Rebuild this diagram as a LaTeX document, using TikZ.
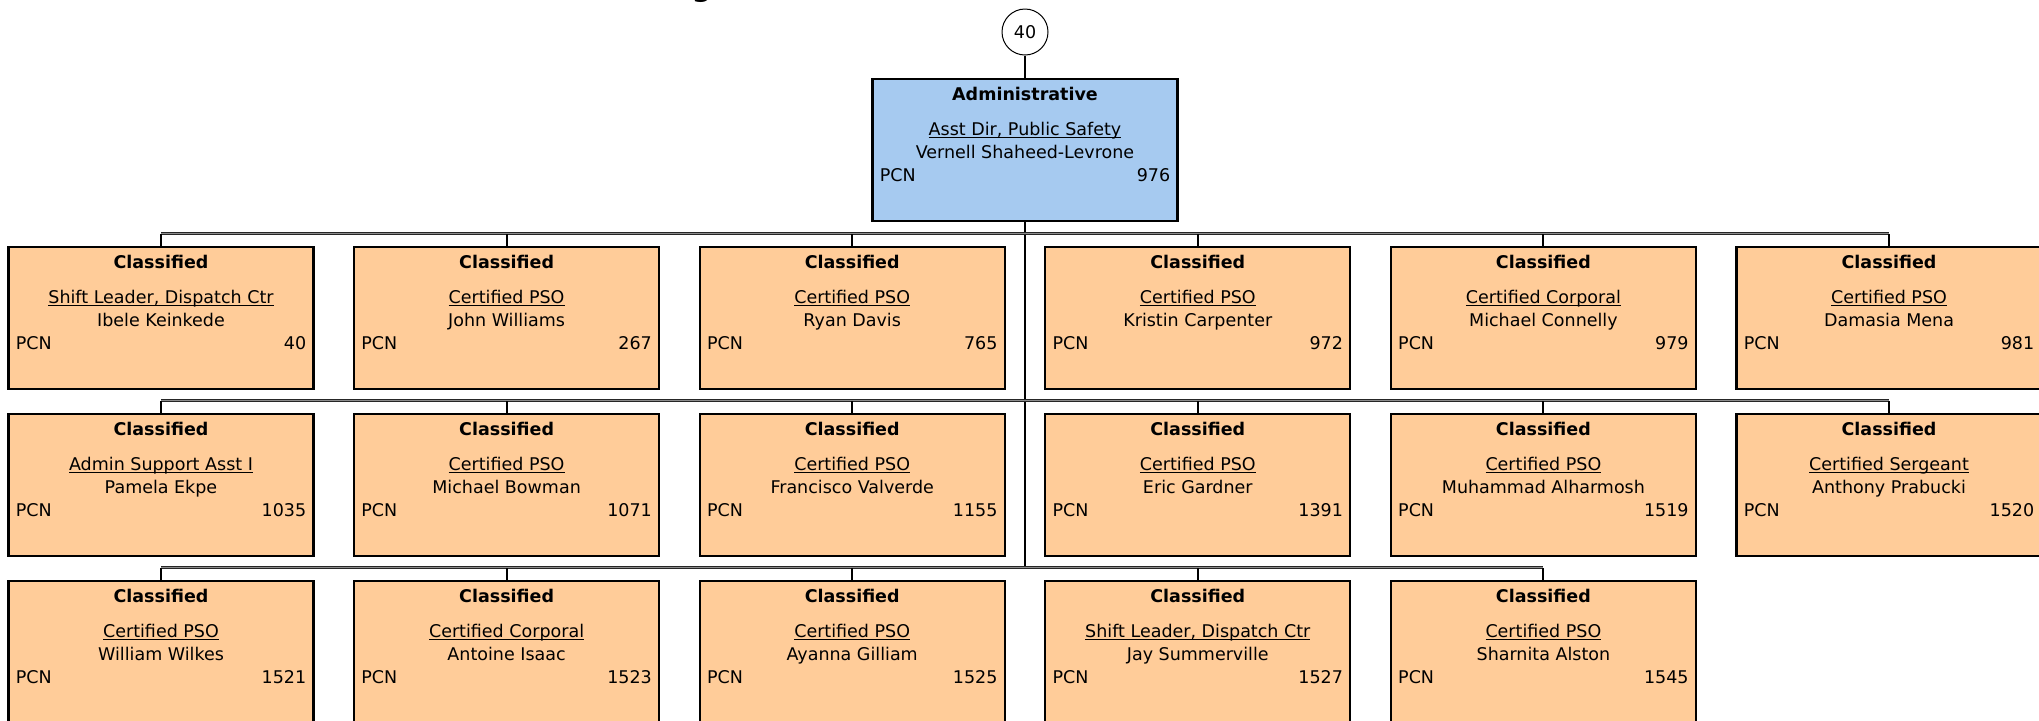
\documentclass[tikz,border=0pt]{standalone}
\usepackage{fontspec}
\setmainfont{DejaVu Sans}
\usetikzlibrary{calc}
\definecolor{adminblue}{RGB}{166,202,240}
\definecolor{classorange}{RGB}{255,204,153}
\tikzset{
  orgbox/.style={draw=black, line width=1.1pt, minimum width=152.5pt, minimum height=71pt, inner sep=0pt, anchor=north},
  txt/.style={inner sep=0pt, anchor=base, font=\fontsize{8.75}{10.5}\selectfont},
  hdr/.style={txt, font=\fontsize{8.75}{10.5}\selectfont\bfseries},
  vline/.style={draw=black, line width=1pt},
  busline/.style={draw=black!85, line width=0.45pt, double=black!45, double distance=0.6pt},
  topcircle/.style={draw=black, line width=0.5pt, circle, minimum size=23pt, inner sep=0pt, font=\fontsize{8.75}{10.5}\selectfont},
}
\newcommand{\orgunit}[8]{%
  \node[orgbox, fill=#8] (#1) at (#2,#3) {};
  \node[hdr] (#1h) at ($(#1.north)+(0,22)$) {#4};
  \node[txt] (#1t) at ($(#1.north)+(0,57)$) {\underline{\smash{#5}}};
  \node[txt] (#1n) at ($(#1.north)+(0,80.5)$) {#6};
  \node[txt, anchor=base west] (#1p) at ($(#1.north west)+(8,103.5)$) {PCN};
  \node[txt, anchor=base east] (#1k) at ($(#1.north east)+(-8,103.5)$) {#7};
}
\begin{document}
\begin{tikzpicture}[x=0.5pt, y=-0.5pt]
\useasboundingbox (0,0) rectangle (2039,720);
\fill[white] (0,0) rectangle (2039,720);

% cut-off title fragment
\node[anchor=base, inner sep=0pt, font=\fontsize{14}{14}\selectfont\bfseries] (ttl) at (702,-3.6) {g};

% top
\node[topcircle] (c40) at (1025,32) {40};
\orgunit{top}{1025}{78}{Administrative}{Asst Dir, Public Safety}{Vernell Shaheed-Levrone}{976}{adminblue}

% bus coordinates
\coordinate (bus1) at (1025,233.5);
\coordinate (bus2) at (1025,400.5);
\coordinate (bus3) at (1025,567.5);

% row 1
\orgunit{a1}{161}{246}{Classified}{Shift Leader, Dispatch Ctr}{Ibele Keinkede}{40}{classorange}
\orgunit{a2}{506.6}{246}{Classified}{Certified PSO}{John Williams}{267}{classorange}
\orgunit{a3}{852.2}{246}{Classified}{Certified PSO}{Ryan Davis}{765}{classorange}
\orgunit{a4}{1197.8}{246}{Classified}{Certified PSO}{Kristin Carpenter}{972}{classorange}
\orgunit{a5}{1543.4}{246}{Classified}{Certified Corporal}{Michael Connelly}{979}{classorange}
\orgunit{a6}{1889}{246}{Classified}{Certified PSO}{Damasia Mena}{981}{classorange}

% row 2
\orgunit{b1}{161}{413}{Classified}{Admin Support Asst I}{Pamela Ekpe}{1035}{classorange}
\orgunit{b2}{506.6}{413}{Classified}{Certified PSO}{Michael Bowman}{1071}{classorange}
\orgunit{b3}{852.2}{413}{Classified}{Certified PSO}{Francisco Valverde}{1155}{classorange}
\orgunit{b4}{1197.8}{413}{Classified}{Certified PSO}{Eric Gardner}{1391}{classorange}
\orgunit{b5}{1543.4}{413}{Classified}{Certified PSO}{Muhammad Alharmosh}{1519}{classorange}
\orgunit{b6}{1889}{413}{Classified}{Certified Sergeant}{Anthony Prabucki}{1520}{classorange}

% row 3
\orgunit{c1}{161}{580}{Classified}{Certified PSO}{William Wilkes}{1521}{classorange}
\orgunit{c2}{506.6}{580}{Classified}{Certified Corporal}{Antoine Isaac}{1523}{classorange}
\orgunit{c3}{852.2}{580}{Classified}{Certified PSO}{Ayanna Gilliam}{1525}{classorange}
\orgunit{c4}{1197.8}{580}{Classified}{Shift Leader, Dispatch Ctr}{Jay Summerville}{1527}{classorange}
\orgunit{c5}{1543.4}{580}{Classified}{Certified PSO}{Sharnita Alston}{1545}{classorange}

% connectors
\draw[vline] (c40) -- (top);
\draw[vline] (top.south) -- (bus3);

\draw[busline] (a1.north |- bus1) -- (a6.north |- bus1);
\draw[busline] (b1.north |- bus2) -- (b6.north |- bus2);
\draw[busline] (c1.north |- bus3) -- (c5.north |- bus3);

\foreach \n in {a1,a2,a3,a4,a5,a6} {\draw[vline] (\n.north) -- (\n.north |- bus1);}
\foreach \n in {b1,b2,b3,b4,b5,b6} {\draw[vline] (\n.north) -- (\n.north |- bus2);}
\foreach \n in {c1,c2,c3,c4,c5} {\draw[vline] (\n.north) -- (\n.north |- bus3);}
\end{tikzpicture}
\end{document}
